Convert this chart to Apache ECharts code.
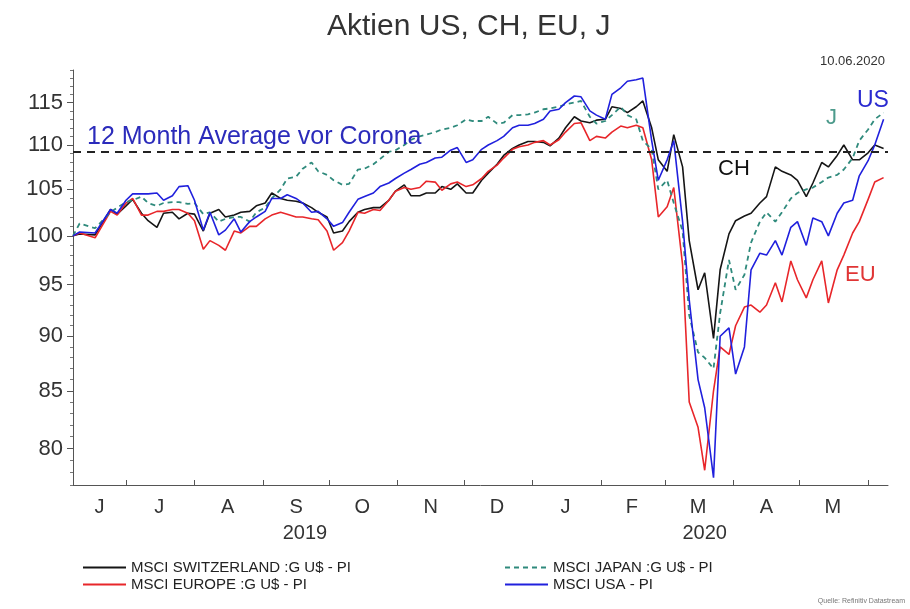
<!DOCTYPE html>
<html>
<head>
<meta charset="utf-8">
<script src="https://cdn.jsdelivr.net/npm/echarts@6/dist/echarts.min.js"></script>
<style>
  html, body { margin: 0; padding: 0; background: #fff; }
  #chart { width: 910px; height: 609px; }
</style>
</head>
<body>
<div id="chart"></div>
<script>
// Werte Mo/Do, indexiert auf 100 (Anfang Juni 2019)
const dates = [
  '2019-06-07', '2019-06-10', '2019-06-17', '2019-06-24', '2019-06-27', '2019-07-01', '2019-07-04', '2019-07-08',
  '2019-07-11', '2019-07-15', '2019-07-18', '2019-07-22', '2019-07-25', '2019-07-29', '2019-08-01', '2019-08-05',
  '2019-08-08', '2019-08-12', '2019-08-15', '2019-08-19', '2019-08-22', '2019-08-26', '2019-08-29', '2019-09-02',
  '2019-09-05', '2019-09-09', '2019-09-12', '2019-09-16', '2019-09-19', '2019-09-23', '2019-09-26', '2019-09-30',
  '2019-10-03', '2019-10-07', '2019-10-10', '2019-10-14', '2019-10-17', '2019-10-21', '2019-10-24', '2019-10-28',
  '2019-10-31', '2019-11-04', '2019-11-07', '2019-11-11', '2019-11-14', '2019-11-18', '2019-11-21', '2019-11-25',
  '2019-11-28', '2019-12-02', '2019-12-05', '2019-12-09', '2019-12-12', '2019-12-16', '2019-12-19', '2019-12-23',
  '2019-12-26', '2019-12-30', '2020-01-02', '2020-01-06', '2020-01-09', '2020-01-13', '2020-01-16', '2020-01-20',
  '2020-01-23', '2020-01-27', '2020-01-30', '2020-02-03', '2020-02-06', '2020-02-10', '2020-02-13', '2020-02-17',
  '2020-02-20', '2020-02-24', '2020-02-27', '2020-03-02', '2020-03-05', '2020-03-09', '2020-03-12', '2020-03-16',
  '2020-03-19', '2020-03-23', '2020-03-26', '2020-03-30', '2020-04-02', '2020-04-06', '2020-04-09', '2020-04-13',
  '2020-04-16', '2020-04-20', '2020-04-23', '2020-04-27', '2020-04-30', '2020-05-04', '2020-05-07', '2020-05-11',
  '2020-05-14', '2020-05-18', '2020-05-21', '2020-05-25', '2020-05-28', '2020-06-01', '2020-06-04', '2020-06-08'];

const chValues = [
  100, 100.2, 100.1, 102.8, 102.3, 103.2, 103.9, 102.4,
  101.6, 100.9, 102.4, 102.5, 101.8, 102.4, 102.3, 100.5,
  102.4, 102.8, 102.0, 102.2, 102.5, 102.6, 103.2, 103.5,
  104.6, 104.0, 103.8, 103.7, 103.5, 103.0, 102.5, 102.0,
  100.3, 100.5, 101.5, 102.5, 102.8, 103.0, 103.0, 103.8,
  104.8, 105.5, 104.3, 104.3, 104.6, 104.6, 105.3, 105.0,
  105.6, 104.6, 104.6, 106.0, 106.8, 107.8, 108.8, 109.6,
  110.0, 110.4, 110.4, 110.3, 109.9, 110.8, 112.0, 113.3,
  112.8, 112.6, 112.9, 113.0, 114.5, 114.3, 113.8, 114.5,
  115.2, 112.0, 108.3, 107.0, 111.2, 107.5, 99.5, 94.5,
  96.2, 89.8, 96.5, 100.2, 101.6, 102.1, 102.4, 103.5,
  104.2, 107.5, 107.0, 106.6, 106.0, 104.2, 105.7, 108.0,
  107.5, 108.8, 110.0, 108.3, 108.3, 109.1, 110.0, 109.6];
const euValues = [
  100, 100.3, 99.8, 102.6, 102.2, 103.5, 104.0, 102.2,
  102.2, 102.6, 102.6, 102.8, 102.8, 102.4, 101.6, 98.6,
  99.5, 99.0, 98.5, 100.5, 100.3, 101.0, 101.0, 101.8,
  102.2, 102.5, 102.3, 102.0, 102.0, 101.8, 101.7, 100.5,
  98.5, 99.3, 100.5, 102.5, 102.4, 102.8, 102.7, 103.8,
  104.8, 105.2, 105.0, 105.2, 105.9, 105.8, 104.9, 105.6,
  105.8, 105.3, 105.5, 106.2, 107.0, 107.7, 108.5, 109.5,
  109.8, 110.0, 110.3, 110.5, 110.0, 110.6, 111.5, 112.5,
  112.6, 110.5, 111.0, 110.8, 111.5, 112.2, 112.0, 112.3,
  112.0, 108.3, 102.0, 103.1, 105.2, 97.0, 84.0, 81.8,
  78.2, 85.0, 89.0, 88.3, 91.0, 92.8, 93.0, 92.3,
  93.0, 95.2, 93.3, 97.4, 95.5, 93.7, 95.5, 97.4,
  93.2, 96.5, 98.0, 100.3, 101.5, 103.9, 105.8, 106.3];
const jpValues = [
  100, 101.3, 100.8, 102.5, 103.0, 103.6, 103.8, 104.2,
  103.5, 103.2, 103.5, 103.6, 103.6, 103.4, 103.5, 102.3,
  102.5, 101.5, 101.8, 102.0, 102.0, 101.5, 102.5, 103.0,
  104.0, 105.0, 106.2, 106.4, 107.3, 108.0, 107.0, 106.6,
  106.0, 105.5, 105.6, 107.2, 107.3, 107.8, 108.4, 109.2,
  109.4, 110.0, 110.6, 111.0, 111.2, 111.5, 111.8, 112.0,
  112.3, 113.0, 112.8, 112.8, 113.3, 112.5, 112.6, 113.5,
  113.5, 113.6, 113.8, 114.2, 114.3, 114.5, 114.8, 115.0,
  115.2, 113.3, 112.5, 112.8, 113.5, 114.5, 113.5, 113.0,
  110.5, 109.5, 105.0, 106.0, 103.5, 100.5, 92.0, 88.5,
  88.0, 87.0, 92.2, 97.5, 94.5, 96.0, 99.3, 101.5,
  102.5, 101.5, 102.5, 104.0, 104.6, 105.0, 105.2, 105.8,
  106.3, 106.6, 107.2, 108.5, 110.5, 111.8, 113.0, 113.8];
const usValues = [
  100, 100.4, 100.3, 102.8, 102.4, 103.8, 104.5, 104.5,
  104.5, 104.6, 103.8, 104.3, 105.3, 105.4, 103.8, 100.6,
  102.5, 100.1, 100.6, 101.8, 100.4, 101.5, 102.0, 102.6,
  104.0, 104.0, 104.4, 104.0, 103.5, 102.5, 102.6, 101.8,
  101.0, 101.4, 102.5, 103.9, 104.2, 104.6, 105.3, 105.7,
  106.2, 106.8, 107.2, 107.8, 108.0, 108.5, 108.6, 109.4,
  109.7, 108.0, 108.3, 109.5, 110.0, 110.5, 111.0, 112.0,
  112.3, 112.3, 112.5, 113.0, 114.0, 114.2, 115.0, 115.8,
  115.7, 114.0, 113.5, 113.0, 116.0, 116.8, 117.6, 117.8,
  118.0, 110.5, 106.0, 108.3, 110.5, 101.5, 93.5, 86.0,
  83.5, 77.6, 90.0, 90.8, 86.5, 89.0, 96.5, 98.2,
  98.0, 99.5, 98.0, 100.9, 101.5, 99.0, 101.9, 101.5,
  100.0, 102.4, 103.5, 103.8, 106.5, 108.2, 110.0, 113.0];

const avgLevel = 109.2; // 12 Month Average vor Corona

const yTicks = [80, 85, 90, 95, 100, 105, 110, 115];
const yMinorTicks = [];
for (let v = 77; v <= 119; v++) yMinorTicks.push(v);

// Monatsgrenzen (Ticks) und Monatsmitte (Beschriftung)
const monthStarts = ['2019-07-01', '2019-08-01', '2019-09-01', '2019-10-01', '2019-11-01', '2019-12-01', '2020-01-01',
  '2020-02-01', '2020-03-01', '2020-04-01', '2020-05-01', '2020-06-01'];
const monthMids = ['2019-06-19', '2019-07-16', '2019-08-16', '2019-09-16', '2019-10-16', '2019-11-16', '2019-12-16',
  '2020-01-16', '2020-02-15', '2020-03-16', '2020-04-16', '2020-05-16'];
const monthLetters = ['J', 'F', 'M', 'A', 'M', 'J', 'J', 'A', 'S', 'O', 'N', 'D'];
const yearMids = ['2019-09-20', '2020-03-19'];

const toTs = (d) => new Date(d + 'T12:00:00').getTime();
const pairs = (vals) => vals.map((v, i) => [toTs(dates[i]), v]);

const FONT = "'Liberation Sans', Arial, sans-serif";
const chart = echarts.init(document.getElementById('chart'));

const legendBase = {
  orient: 'vertical', top: 555, itemWidth: 43, itemHeight: 14, itemGap: 2,
  selectedMode: false,
  itemStyle: { opacity: 0 },
  textStyle: { fontSize: 15, color: '#222', fontFamily: FONT },
};
const xMin = toTs('2019-06-07');
const xMax = toTs('2020-06-10');

const option = {
  animation: false,
  backgroundColor: '#fff',
  textStyle: { fontFamily: FONT },
  title: {
    text: 'Aktien US, CH, EU, J',
    left: 322,
    top: 7,
    textStyle: { fontSize: 30, fontWeight: 'normal', color: '#333', fontFamily: FONT },
  },
  grid: { left: 73, right: 22, top: 70, bottom: 124 },
  legend: [
    Object.assign({ data: ['MSCI SWITZERLAND :G U$ - PI', 'MSCI EUROPE :G U$ - PI'], left: 77 }, legendBase),
    Object.assign({ data: ['MSCI JAPAN :G U$ - PI', 'MSCI USA - PI'], left: 499 }, legendBase),
  ],
  xAxis: [
    {
      type: 'value',
      min: xMin,
      max: xMax,
      axisLine: { lineStyle: { color: '#555', width: 1 } },
      axisTick: { customValues: monthStarts.map(toTs), inside: true, length: 5, lineStyle: { color: '#555' } },
      axisLabel: {
        customValues: monthMids.map(toTs),
        formatter: (v) => monthLetters[new Date(v).getMonth()],
        fontSize: 20, color: '#333', margin: 12,
      },
      splitLine: { show: false },
    },
    {
      type: 'value',
      position: 'bottom',
      min: xMin,
      max: xMax,
      axisLine: { show: false },
      axisTick: { show: false },
      axisLabel: {
        customValues: yearMids.map(toTs),
        formatter: (v) => String(new Date(v).getFullYear()),
        fontSize: 20, color: '#333', margin: 38,
      },
      splitLine: { show: false },
    },
  ],
  yAxis: [
    {
      type: 'log',
      min: 77,
      max: 119,
      axisLine: { show: true, lineStyle: { color: '#555' } },
      axisTick: { customValues: yMinorTicks, length: 3, lineStyle: { color: '#777' } },
      axisLabel: { customValues: yTicks, fontSize: 22, color: '#333', margin: 10 },
      splitLine: { show: false },
    },
    {
      type: 'log',
      position: 'left',
      min: 77,
      max: 119,
      axisLine: { show: false },
      axisTick: { customValues: yTicks, length: 6, lineStyle: { color: '#555' } },
      axisLabel: { show: false },
      splitLine: { show: false },
    },
  ],
  series: [
    {
      name: 'MSCI SWITZERLAND :G U$ - PI',
      type: 'line',
      symbol: 'none',
      data: pairs(chValues),
      lineStyle: { color: '#151515', width: 1.6 },
      itemStyle: { color: '#151515' },
      markLine: {
        symbol: 'none',
        silent: true,
        data: [{ yAxis: avgLevel }],
        lineStyle: { color: '#222', type: [8, 6], width: 2 },
        label: {
          show: true,
          position: 'insideStartTop',
          formatter: '12 Month Average vor Corona',
          color: '#2b2bbb',
          fontSize: 25,
          fontFamily: FONT,
          distance: [14, 2],
        },
      },
    },
    {
      name: 'MSCI EUROPE :G U$ - PI',
      type: 'line',
      symbol: 'none',
      data: pairs(euValues),
      lineStyle: { color: '#e8262a', width: 1.6 },
      itemStyle: { color: '#e8262a' },
    },
    {
      name: 'MSCI JAPAN :G U$ - PI',
      type: 'line',
      symbol: 'none',
      data: pairs(jpValues),
      lineStyle: { color: '#2f8a7c', width: 1.8, type: [5, 4] },
      itemStyle: { color: '#2f8a7c' },
    },
    {
      name: 'MSCI USA - PI',
      type: 'line',
      symbol: 'none',
      data: pairs(usValues),
      lineStyle: { color: '#2020dd', width: 1.6 },
      itemStyle: { color: '#2020dd' },
    },
  ],
  graphic: [
    { type: 'text', right: 25, top: 55, style: { text: '10.06.2020', fontSize: 13, fill: '#333', fontFamily: FONT } },
    { type: 'text', right: 5, top: 598, style: { text: 'Quelle: Refinitiv Datastream', fontSize: 7, fill: '#777', fontFamily: FONT } },
    { type: 'text', left: 718, top: 158, style: { text: 'CH', fontSize: 22, fill: '#111', fontFamily: FONT } },
    { type: 'text', left: 826, top: 107, style: { text: 'J', fontSize: 22, fill: '#4d9b8c', fontFamily: FONT } },
    { type: 'text', left: 857, top: 89, style: { text: 'US', fontSize: 23, fill: '#2a2ad0', fontFamily: FONT } },
    { type: 'text', left: 845, top: 264, style: { text: 'EU', fontSize: 22, fill: '#e03535', fontFamily: FONT } },
  ],
};

chart.setOption(option);
</script>
</body>
</html>
